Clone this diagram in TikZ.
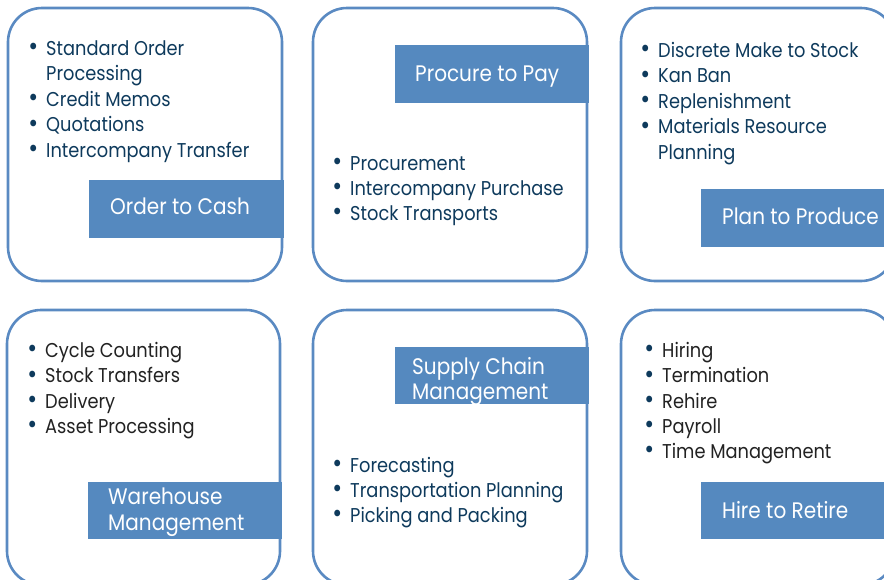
\documentclass[tikz,border=0pt]{standalone}
\usepackage{fontspec}
\setmainfont[FakeStretch=0.89]{Poppins}
\definecolor{frame}{HTML}{5A8AC2}
\definecolor{tagfill}{HTML}{5589BF}
\definecolor{navy}{HTML}{0E3A5C}
\definecolor{ink}{HTML}{222222}
\newcommand\itemfont{\fontsize{20}{25.5}\selectfont}
\newcommand\tagfont{\fontsize{22.5}{25.5}\selectfont}
\newcommand\bul{\makebox[0pt][r]{\textcolor{navy}{\raisebox{-0.6pt}{\scalebox{1.35}{\textbullet}}}\hspace{8pt}}}
\tikzset{
  panel/.style={draw=frame, line width=2.6pt, rounded corners=34pt},
  tag/.style={fill=tagfill},
  tagtext/.style={text=white, font=\tagfont, inner sep=0pt, anchor=base west},
  itemtext/.style={text=navy, font=\itemfont, inner sep=0pt, anchor=base west},
  darkitem/.style={itemtext, text=ink},
}
\begin{document}
\begin{tikzpicture}[x=1pt, y=-1pt]
\useasboundingbox (0,0) rectangle (884,579);
\clip (0,0) rectangle (884,579);

% panels
\draw[panel] (8,8) rectangle (282,281);
\draw[panel] (313,8) rectangle (587,281);
\draw[panel] (621,8) rectangle (895,281);
\draw[panel] (7,310) rectangle (280,585);
\draw[panel] (313,310) rectangle (587,585);
\draw[panel] (621,310) rectangle (895,585);

% title bars
\fill[tag] (89,180) rectangle (284,238);
\fill[tag] (395,45) rectangle (589,103);
\fill[tag] (701,189) rectangle (890,247);
\fill[tag] (88,482) rectangle (282,539);
\fill[tag] (395,347) rectangle (589,404);
\fill[tag] (701,482) rectangle (890,539);

% titles
\node[tagtext] (t1) at (110,214) {Order to Cash};
\node[tagtext] (t2) at (415,81) {Procure to Pay};
\node[tagtext] (t3) at (722,224) {Plan to Produce};
\node[tagtext] (t4a) at (108,504) {Warehouse};
\node[tagtext] (t4b) at (108,530) {Management};
\node[tagtext] (t5a) at (412,374) {Supply Chain};
\node[tagtext] (t5b) at (412,399) {Management};
\node[tagtext] (t6) at (722,518) {Hire to Retire};

% order to cash
\node[itemtext] (a1) at (46,55) {\bul Standard Order};
\node[itemtext] (a2) at (46,80.5) {Processing};
\node[itemtext] (a3) at (46,106) {\bul Credit Memos};
\node[itemtext] (a4) at (46,131.5) {\bul Quotations};
\node[itemtext] (a5) at (46,157) {\bul Intercompany Transfer};

% procure to pay
\node[itemtext] (b1) at (350,170) {\bul Procurement};
\node[itemtext] (b2) at (350,195) {\bul Intercompany Purchase};
\node[itemtext] (b3) at (350,220) {\bul Stock Transports};

% plan to produce
\node[itemtext] (c1) at (658,57) {\bul Discrete Make to Stock};
\node[itemtext] (c2) at (658,82.5) {\bul Kan Ban};
\node[itemtext] (c3) at (658,108) {\bul Replenishment};
\node[itemtext] (c4) at (658,133.5) {\bul Materials Resource};
\node[itemtext] (c5) at (658,159) {Planning};

% warehouse management
\node[darkitem] (d1) at (45,357) {\bul Cycle Counting};
\node[darkitem] (d2) at (45,382.5) {\bul Stock Transfers};
\node[darkitem] (d3) at (45,408) {\bul Delivery};
\node[darkitem] (d4) at (45,433) {\bul Asset Processing};

% supply chain management
\node[itemtext] (e1) at (350,472) {\bul Forecasting};
\node[itemtext] (e2) at (350,497) {\bul Transportation Planning};
\node[itemtext] (e3) at (350,522) {\bul Picking and Packing};

% hire to retire
\node[darkitem] (f1) at (662,357) {\bul Hiring};
\node[darkitem] (f2) at (662,382.5) {\bul Termination};
\node[darkitem] (f3) at (662,408) {\bul Rehire};
\node[darkitem] (f4) at (662,433) {\bul Payroll};
\node[darkitem] (f5) at (662,458) {\bul Time Management};
\end{tikzpicture}
\end{document}
